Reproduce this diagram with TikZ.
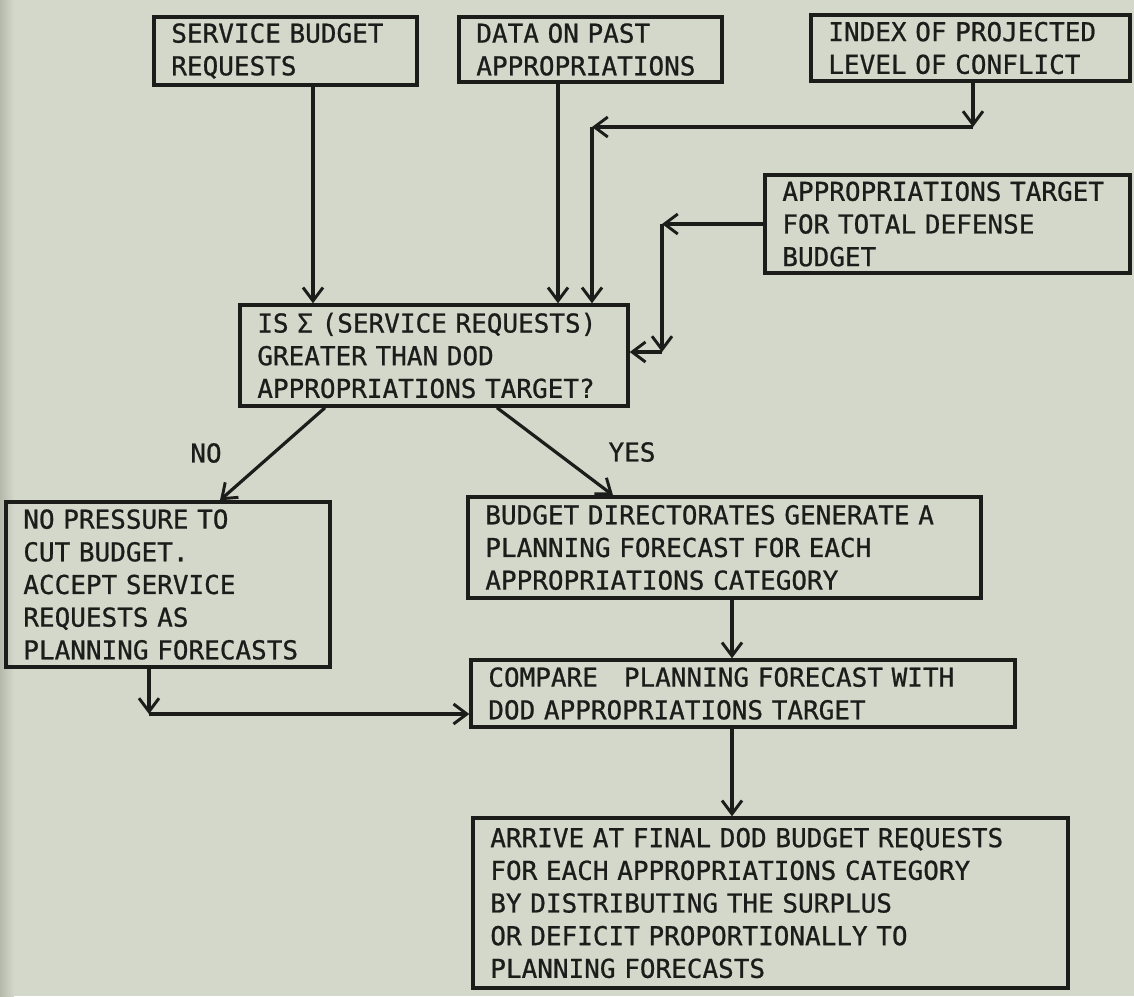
\documentclass[tikz,border=0pt]{standalone}
\usepackage{fontspec}
\newfontfamily\lettering[FakeBold=0.8]{DejaVu Sans Mono}
\usetikzlibrary{arrows.meta,calc}
\definecolor{paper}{RGB}{212,216,203}
\definecolor{paperdark}{RGB}{180,185,172}
\definecolor{ink}{RGB}{28,28,26}
\begin{document}
\begin{tikzpicture}[x=0.75pt,y=-0.75pt,
  txt/.style={font=\lettering\fontsize{19.5}{24.5}\selectfont, text=ink},
  box/.style={txt, draw=ink, line width=2.6pt, inner xsep=13pt, inner ysep=2pt, align=left},
  arr/.style={draw=ink, line width=2.4pt, -{Straight Barb[length=10pt,width=15pt,line width=2.2pt]}},
  lbl/.style={txt, inner sep=0pt}]
% background
\fill[paper] (0,0) rectangle (1134,996);
\shade[left color=paperdark, right color=paper] (0,0) rectangle (14,996);
\useasboundingbox (0,0) rectangle (1134,996);

% boxes
\node[box, text width=171.25pt, minimum height=51pt] (b1) at (285.5,51) {SERVICE BUDGET\\REQUESTS};
\node[box, text width=171.25pt, minimum height=48.75pt] (b2) at (590.5,49.5) {DATA ON PAST\\APPROPRIATIONS};
\node[box, text width=213.25pt, minimum height=49.5pt] (b3) at (970.5,48) {INDEX OF PROJECTED\\LEVEL OF CONFLICT};
\node[box, text width=247.75pt, minimum height=73.5pt] (b4) at (947.5,224) {APPROPRIATIONS TARGET\\FOR TOTAL DEFENSE\\BUDGET};
\node[box, text width=265pt, minimum height=75.75pt] (dec) at (434,355.5) {IS Σ (SERVICE REQUESTS)\\GREATER THAN DOD\\APPROPRIATIONS TARGET?};
\node[box, text width=217pt, minimum height=123.75pt] (no) at (168,584.5) {NO PRESSURE TO\\CUT BUDGET.\\ACCEPT SERVICE\\REQUESTS AS\\PLANNING FORECASTS};
\node[box, text width=358.75pt, minimum height=75.75pt] (yes) at (724.5,547.5) {BUDGET DIRECTORATES GENERATE A\\PLANNING FORECAST FOR EACH\\APPROPRIATIONS CATEGORY};
\node[box, text width=382pt, minimum height=50.25pt] (cmp) at (743,693.5) {COMPARE~~~PLANNING FORECAST WITH\\DOD APPROPRIATIONS TARGET};
\node[box, text width=420.25pt, minimum height=127.5pt] (fin) at (770.5,903) {ARRIVE AT FINAL DOD BUDGET REQUESTS\\FOR EACH APPROPRIATIONS CATEGORY\\BY DISTRIBUTING THE SURPLUS\\OR DEFICIT PROPORTIONALLY TO\\PLANNING FORECASTS};

% labels
\node[lbl] (lno) at (206,453) {NO};
\node[lbl] (lyes) at (632,452) {YES};

% helper coordinates
\coordinate (xa) at (313,0);
\coordinate (xb) at (558,0);
\coordinate (c1) at (973,127);
\coordinate (c2) at (592,127);
\coordinate (c3) at (662,224);
\coordinate (c4) at (662,352);
\coordinate (xn1) at (325,0);
\coordinate (xn2) at (220,0);
\coordinate (xy1) at (497,0);
\coordinate (xy2) at (613,0);
\coordinate (xv) at (732,0);
\coordinate (c5) at (149,714);

% connectors
\draw[arr] (b1.south -| xa) -- (dec.north -| xa);
\draw[arr] (b2.south -| xb) -- (dec.north -| xb);
\draw[arr] (b3.south -| c1) -- (c1);
\draw[arr] (c1) -- (c2);
\draw[arr] (c2) -- (dec.north -| c2);
\draw[arr] (b4.west |- c3) -- (c3);
\draw[arr] (c3) -- (c4);
\draw[arr] (c4) -- (dec.east |- c4);
\draw[arr] (dec.south -| xn1) -- (no.north -| xn2);
\draw[arr] (dec.south -| xy1) -- (yes.north -| xy2);
\draw[arr] (yes.south -| xv) -- (cmp.north -| xv);
\draw[arr] (no.south -| c5) -- (c5);
\draw[arr] (c5) -- (cmp.west |- c5);
\draw[arr] (cmp.south -| xv) -- (fin.north -| xv);
\end{tikzpicture}
\end{document}
